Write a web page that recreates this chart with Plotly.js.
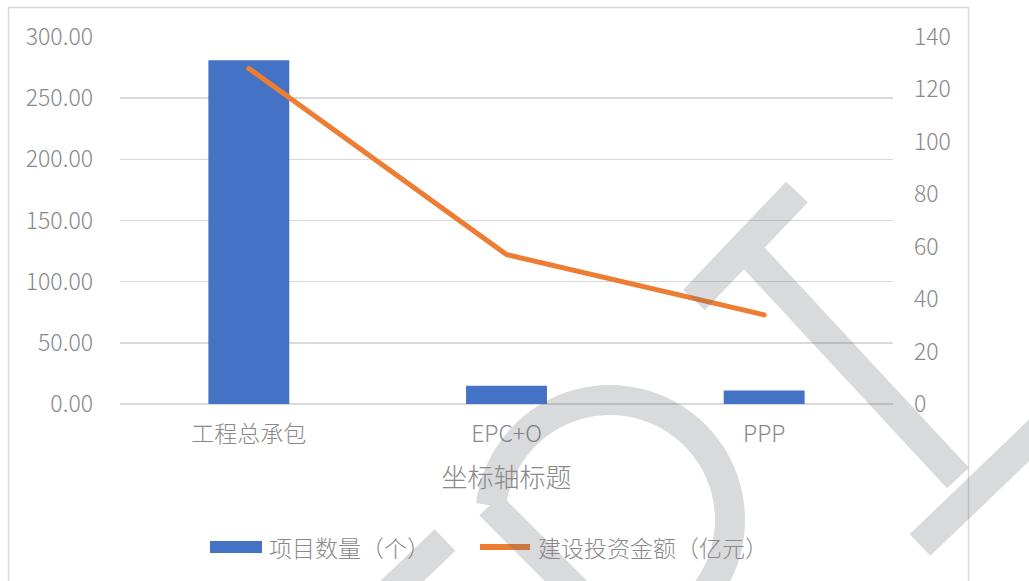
<!DOCTYPE html>
<html>
<head>
<meta charset="utf-8">
<script src="https://cdn.plot.ly/plotly-3.0.1.min.js"></script>
<style>
html,body{margin:0;padding:0;background:#fff;}
#chart{width:1029px;height:581px;}
#chart .scatterlayer path.js-line{stroke-linecap:round;stroke-linejoin:round;}
</style>
</head>
<body>
<div id="chart"></div>
<script>
// ---- data ----
const categories = ['工程总承包', 'EPC+O', 'PPP'];
const projectCount = [281, 15, 11];          // 项目数量（个）
const investment = [128, 57, 34];            // 建设投资金额（亿元）
const seriesNames = ['项目数量（个）', '建设投资金额（亿元）'];
const xTitle = '坐标轴标题';

// ---- geometry helpers (pixel -> paper) ----
const W = 1029, H = 581;
const M = {l: 120, r: 136, t: 37, b: 177};
const PW = W - M.l - M.r, PH = H - M.t - M.b;
const X = px => (px - M.l) / PW;
const Y = py => (H - M.b - py) / PH;

const FONT = '"Noto Sans CJK SC", "Noto Sans", sans-serif';
const TXT = '#898989';
const BLUE = '#4472C4';
const ORANGE = '#ED7D31';

const traces = [
  {
    type: 'bar', x: categories, y: projectCount, name: seriesNames[0],
    marker: {color: BLUE}, width: 0.314, yaxis: 'y', hoverinfo: 'skip', showlegend: false
  },
  {
    type: 'scatter', mode: 'lines', x: categories, y: investment, name: seriesNames[1],
    line: {color: ORANGE, width: 5}, yaxis: 'y2', hoverinfo: 'skip', showlegend: false
  }
];

// ---- watermark path (decoration) ----
function P(x, y) { return X(x).toFixed(5) + ',' + Y(y).toFixed(5); }
let wm = '';
wm += 'M' + P(797, 192) + 'L' + P(694, 300);
wm += 'M' + P(752, 256) + 'L' + P(958, 478);
wm += 'M' + P(1045, 425) + 'L' + P(920, 545);
wm += 'M' + P(378, 604) + 'L' + P(445, 540);
// D: stem + arc
wm += 'M' + P(490, 505) + 'L' + P(624, 639);
(function(){
  const cx = 610, cy = 520, r = 120;
  const a0 = 187 * Math.PI / 180, a1 = 443 * Math.PI / 180;
  const n = 60;
  for (let i = 0; i <= n; i++) {
    const a = a0 + (a1 - a0) * i / n;
    const x = cx + r * Math.cos(a), y = cy + r * Math.sin(a);
    wm += (i === 0 ? 'M' : 'L') + P(x, y);
  }
})();

const shapes = [
  // outer chart border
  {type: 'rect', xref: 'paper', yref: 'paper', x0: X(8.5), x1: X(968.5), y0: Y(7.5), y1: Y(620),
   line: {color: '#d9d9d9', width: 1.5}, fillcolor: 'rgba(0,0,0,0)', layer: 'below'},
  // legend swatches
  {type: 'rect', xref: 'paper', yref: 'paper', x0: X(210), x1: X(262), y0: Y(541), y1: Y(553),
   line: {width: 0}, fillcolor: BLUE},
  {type: 'line', xref: 'paper', yref: 'paper', x0: X(480), x1: X(530), y0: Y(547), y1: Y(547),
   line: {color: ORANGE, width: 6}},
  // watermark
  {type: 'path', xref: 'paper', yref: 'paper', path: wm,
   line: {color: 'rgb(100,104,112)', width: 30}, opacity: 0.24, layer: 'above'}
];

const annotations = [
  {xref: 'paper', yref: 'paper', x: X(267), y: Y(547), xanchor: 'left', yanchor: 'middle',
   text: seriesNames[0], showarrow: false, font: {family: FONT, size: 23, color: TXT, weight: 300}},
  {xref: 'paper', yref: 'paper', x: X(536), y: Y(547), xanchor: 'left', yanchor: 'middle',
   text: seriesNames[1], showarrow: false, font: {family: FONT, size: 23, color: TXT, weight: 300}}
];

const layout = {
  width: W, height: H, autosize: false,
  margin: {l: M.l, r: M.r, t: M.t, b: M.b, pad: 0},
  paper_bgcolor: '#fff', plot_bgcolor: '#fff',
  font: {family: FONT, color: TXT, size: 23, weight: 300},
  showlegend: false,
  xaxis: {
    type: 'category', showgrid: false, showline: false, zeroline: false, ticks: '',
    tickfont: {family: FONT, size: 23, color: TXT, weight: 300}, ticklabelstandoff: 14,
    title: {text: xTitle, font: {family: FONT, size: 26, color: TXT, weight: 300}, standoff: 20}
  },
  yaxis: {
    range: [0, 300], dtick: 50, tick0: 0, tickformat: '.2f',
    showgrid: true, gridcolor: '#d9d9d9', gridwidth: 1.5,
    zeroline: true, zerolinecolor: '#d9d9d9', zerolinewidth: 1.5,
    showline: false, ticks: '', ticklabelstandoff: 26,
    tickfont: {family: FONT, size: 23, color: TXT, weight: 300}
  },
  yaxis2: {
    overlaying: 'y', side: 'right', range: [0, 140], dtick: 20, tick0: 0,
    showgrid: false, zeroline: false, showline: false, ticks: '', ticklabelstandoff: 20,
    tickfont: {family: FONT, size: 23, color: TXT, weight: 300}
  },
  shapes: shapes,
  annotations: annotations
};

Plotly.newPlot('chart', traces, layout, {staticPlot: true, displayModeBar: false});
</script>
</body>
</html>
